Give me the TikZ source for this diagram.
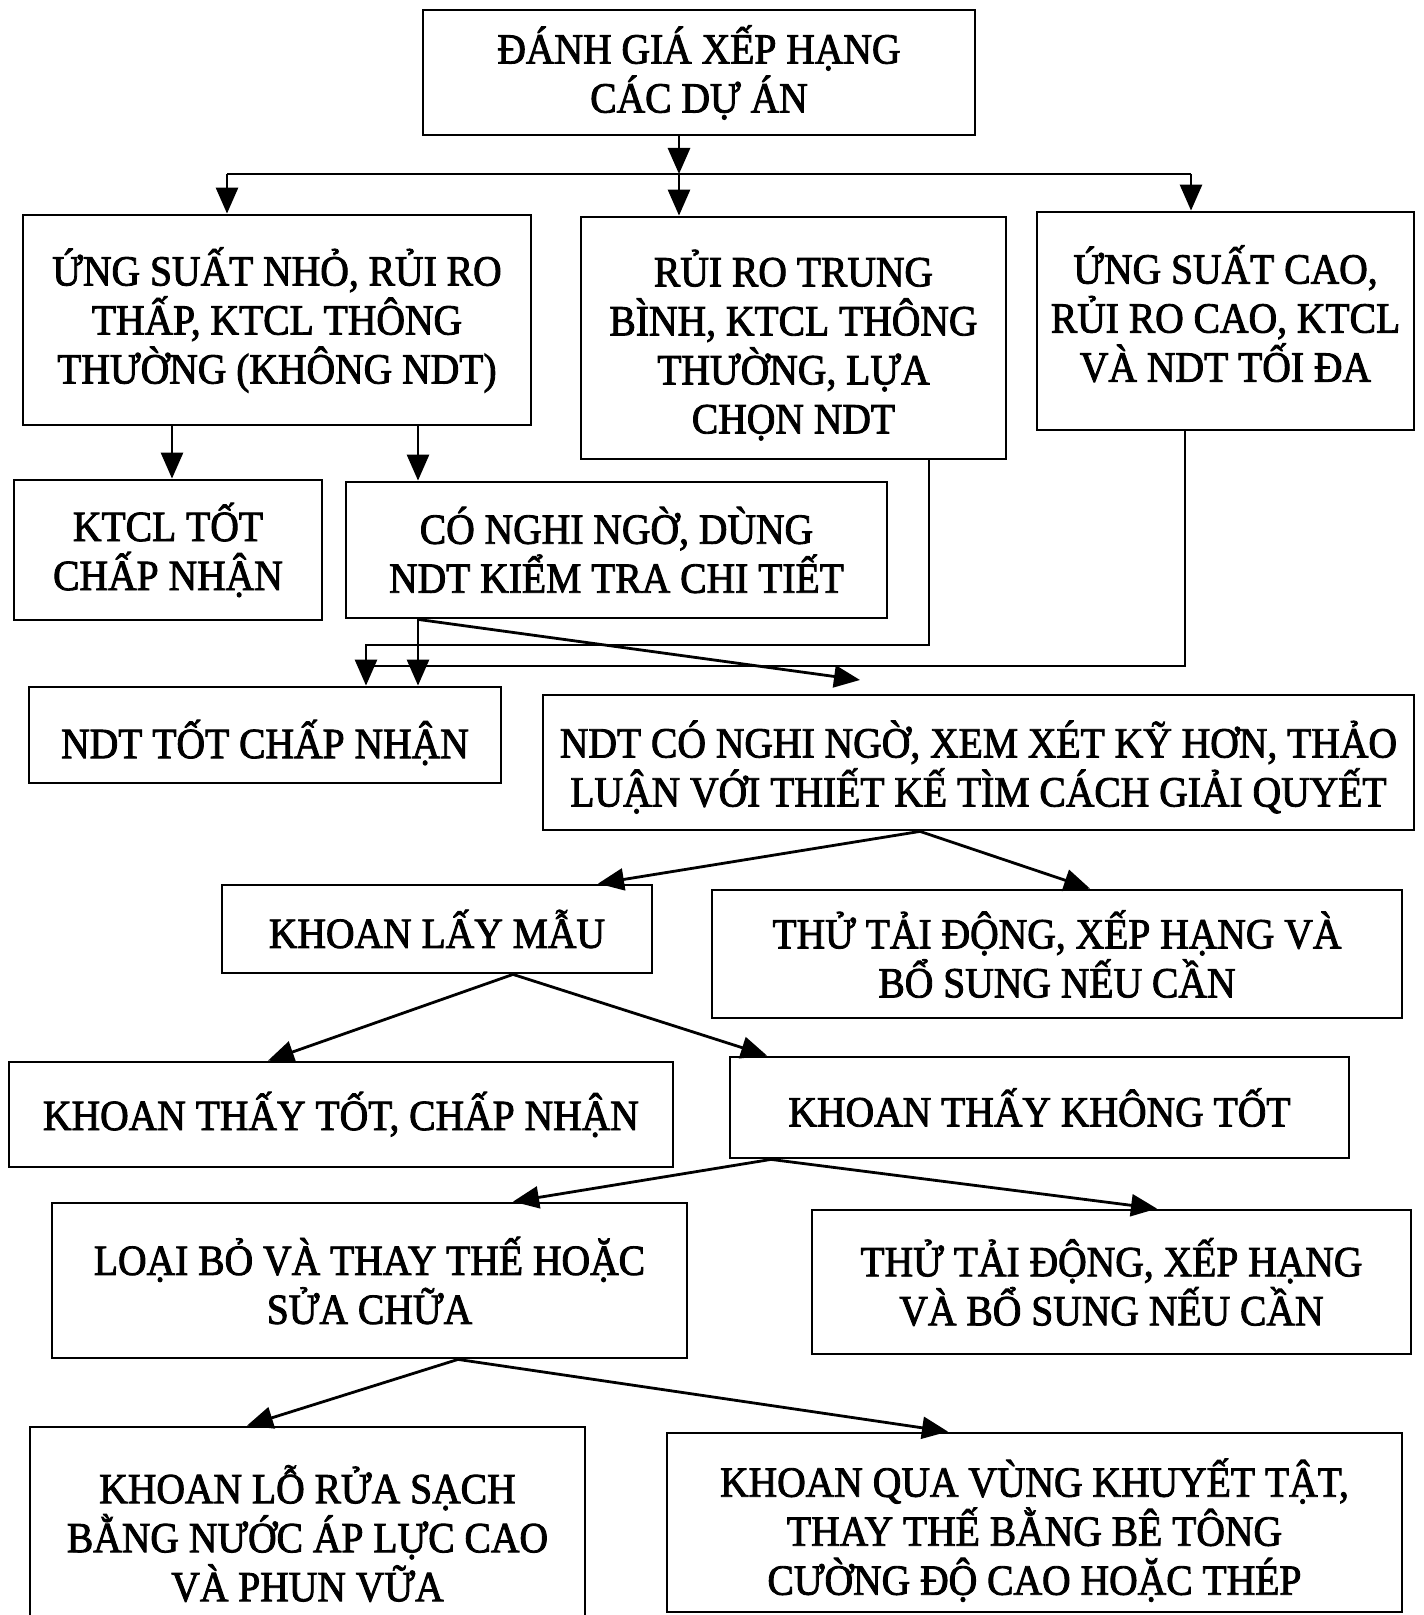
\documentclass[tikz,border=0pt]{standalone}
\usepackage{fontspec}
\setmainfont{Liberation Serif}[FakeStretch=0.92,FakeBold=2]
\usetikzlibrary{arrows.meta}
\begin{document}
\begin{tikzpicture}[x=0.5pt,y=-0.5pt,
  ln/.style={line width=1.4pt},
  arr/.style={line width=1.4pt,-{Triangle[length=13pt,width=11pt]}},
  box/.style={draw,line width=1.4pt,align=center,inner sep=0pt,
    font=\fontsize{21.5pt}{24.5pt}\selectfont}]
\clip (0,0) rectangle (1423,1615);
\fill[white] (0,0) rectangle (1423,1615);
% boxes
\node[box,minimum width=276pt,minimum height=62.5pt] (top) at (699,72.5) {ĐÁNH GIÁ XẾP HẠNG\\CÁC DỰ ÁN};
\node[box,minimum width=254pt,minimum height=105pt] (A) at (277,320) {ỨNG SUẤT NHỎ, RỦI RO\\THẤP, KTCL THÔNG\\THƯỜNG (KHÔNG NDT)};
\node[box,minimum width=212.5pt,minimum height=121pt] (B) at (793.5,338) {RỦI RO TRUNG\\BÌNH, KTCL THÔNG\\THƯỜNG, LỰA\\CHỌN NDT\\[-28pt]};
\node[box,minimum width=188.5pt,minimum height=109pt] (C) at (1225.5,321) {ỨNG SUẤT CAO,\\RỦI RO CAO, KTCL\\VÀ NDT TỐI ĐA\\[-17pt]};
\node[box,minimum width=154pt,minimum height=70pt] (ktcl) at (168,550) {KTCL TỐT\\CHẤP NHẬN};
\node[box,minimum width=270.5pt,minimum height=68pt] (nghi) at (616.5,550) {CÓ NGHI NGỜ, DÙNG\\NDT KIỂM TRA CHI TIẾT};
\node[box,minimum width=236pt,minimum height=48pt] (ndttot) at (265,735) {NDT TỐT CHẤP NHẬN\\[-28.5pt]};
\node[box,minimum width=435.5pt,minimum height=67.5pt] (ndtco) at (978.5,762.5) {NDT CÓ NGHI NGỜ, XEM XÉT KỸ HƠN, THẢO\\LUẬN VỚI THIẾT KẾ TÌM CÁCH GIẢI QUYẾT\\[-25.5pt]};
\node[box,minimum width=215pt,minimum height=44pt] (lay) at (437,929) {KHOAN LẤY MẪU};
\node[box,minimum width=345pt,minimum height=64pt] (thu1) at (1057,954) {THỬ TẢI ĐỘNG, XẾP HẠNG VÀ\\BỔ SUNG NẾU CẦN};
\node[box,minimum width=332pt,minimum height=52.5pt] (good) at (341,1114.5) {KHOAN THẤY TỐT, CHẤP NHẬN};
\node[box,minimum width=309.5pt,minimum height=50.5pt] (bad) at (1039.5,1107.5) {KHOAN THẤY KHÔNG TỐT};
\node[box,minimum width=317.5pt,minimum height=77.5pt] (loai) at (369.5,1280.5) {LOẠI BỎ VÀ THAY THẾ HOẶC\\SỬA CHỮA};
\node[box,minimum width=299.5pt,minimum height=72pt] (thu2) at (1111.5,1282) {THỬ TẢI ĐỘNG, XẾP HẠNG\\VÀ BỔ SUNG NẾU CẦN};
\node[box,minimum width=277.5pt,minimum height=106.5pt] (lo) at (307.5,1533.5) {KHOAN LỖ RỬA SẠCH\\BẰNG NƯỚC ÁP LỰC CAO\\VÀ PHUN VỮA};
\node[box,minimum width=367.5pt,minimum height=89.5pt] (qua) at (1034.5,1522.5) {KHOAN QUA VÙNG KHUYẾT TẬT,\\THAY THẾ BẰNG BÊ TÔNG\\CƯỜNG ĐỘ CAO HOẶC THÉP\\[-28.6pt]};
% helper coordinates
\coordinate (j) at (679,174);
\coordinate (jA) at (227,174);
\coordinate (jC) at (1191,174);
\coordinate (xa1) at (172,0);
\coordinate (xa2) at (418,0);
\coordinate (xb) at (929,0);
\coordinate (xc) at (1185,0);
\coordinate (xm) at (366,0);
\coordinate (yb) at (0,645);
\coordinate (yc) at (0,666);
\coordinate (d1) at (860,680);
\coordinate (s2) at (920,0);
\coordinate (t2a) at (598,0);
\coordinate (t2b) at (1090,0);
\coordinate (s3) at (513,0);
\coordinate (t3a) at (268,0);
\coordinate (t3b) at (767,0);
\coordinate (s4) at (771,0);
\coordinate (t4a) at (513,0);
\coordinate (t4b) at (1157,0);
\coordinate (s5) at (458,0);
\coordinate (t5a) at (247,0);
\coordinate (t5b) at (948,0);
% connectors
\draw[arr] (top.south -| j) -- (j);
\draw[ln] (jA) -- (jC);
\draw[arr] (jA) -- (jA |- A.north);
\draw[arr] (j) -- (j |- B.north);
\draw[arr] (jC) -- (jC |- C.north);
\draw[arr] (A.south -| xa1) -- (ktcl.north -| xa1);
\draw[arr] (A.south -| xa2) -- (nghi.north -| xa2);
\draw[arr] (B.south -| xb) |- (xm |- yb) -- (xm |- ndttot.north);
\draw[ln] (C.south -| xc) |- (xm |- yc);
\draw[arr] (nghi.south -| xa2) -- (ndttot.north -| xa2);
\draw[arr] (nghi.south -| xa2) -- (d1);
\draw[arr] (ndtco.south -| s2) -- (lay.north -| t2a);
\draw[arr] (ndtco.south -| s2) -- (thu1.north -| t2b);
\draw[arr] (lay.south -| s3) -- (good.north -| t3a);
\draw[arr] (lay.south -| s3) -- (bad.north -| t3b);
\draw[arr] (bad.south -| s4) -- (loai.north -| t4a);
\draw[arr] (bad.south -| s4) -- (thu2.north -| t4b);
\draw[arr] (loai.south -| s5) -- (lo.north -| t5a);
\draw[arr] (loai.south -| s5) -- (qua.north -| t5b);
\end{tikzpicture}
\end{document}
